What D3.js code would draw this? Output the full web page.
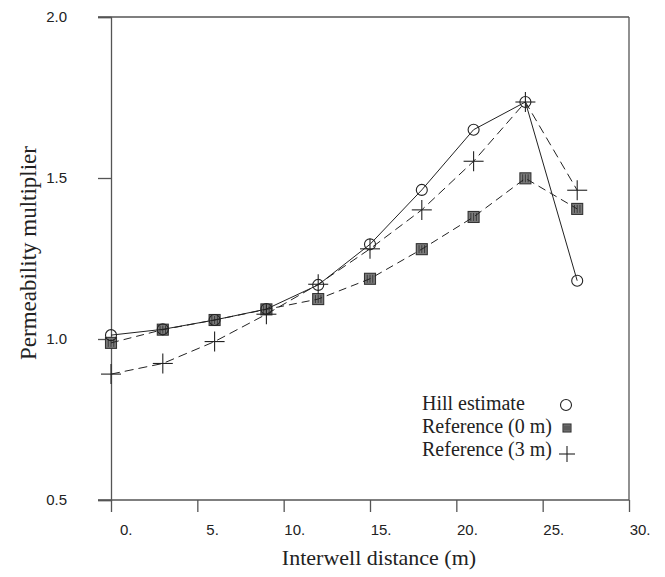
<!DOCTYPE html>
<html>
<head>
<meta charset="utf-8">
<script src="https://cdn.jsdelivr.net/npm/d3@7/dist/d3.min.js"></script>
<style>
  html, body { margin: 0; padding: 0; background: #fff; }
  svg { display: block; }
</style>
</head>
<body>
<svg id="chart" width="665" height="577"></svg>
<script>
// Interwell distance (m)
const distances = [0, 3, 6, 9, 12, 15, 18, 21, 24, 27];
// Permeability multiplier per series
const hillEstimate = [1.012, 1.030, 1.059, 1.093, 1.168, 1.294, 1.463, 1.650, 1.736, 1.181];
const reference0m  = [0.988, 1.029, 1.059, 1.092, 1.124, 1.187, 1.279, 1.379, 1.499, 1.404];
const reference3m  = [0.891, 0.924, 0.992, 1.077, 1.170, 1.280, 1.401, 1.552, 1.736, 1.462];

const xTicks = [0, 5, 10, 15, 20, 25, 30];
const xTickLabels = ["0.", "5.", "10.", "15.", "20.", "25.", "30."];
const yTicks = [0.5, 1.0, 1.5, 2.0];
const yTickLabels = ["0.5", "1.0", "1.5", "2.0"];
const seriesNames = ["Hill estimate", "Reference (0 m)", "Reference (3 m)"];

const svg = d3.select("#chart");
const plotLeft = 111, plotRight = 629, plotTop = 17, plotBottom = 500;
const tickLen = 13;

const x = d3.scaleLinear().domain([0, 30]).range([plotLeft, plotRight]);
const y = d3.scaleLinear().domain([0.5, 2.0]).range([plotBottom, plotTop]);

const frameColor = "#555";
const tickFont = "'Liberation Sans', Arial, sans-serif";
const titleFont = "'Liberation Serif', 'Times New Roman', serif";

// y axis with outward ticks
const yAxis = d3.axisLeft(y).tickValues(yTicks).tickSize(tickLen).tickFormat((d, i) => yTickLabels[i]);
const gy = svg.append("g").attr("transform", `translate(${plotLeft},0)`).call(yAxis);
gy.select(".domain").attr("stroke", frameColor).attr("stroke-width", 1.3);
gy.selectAll(".tick line").attr("stroke", frameColor).attr("stroke-width", 1.3);
gy.selectAll(".tick text")
  .attr("x", -44)
  .attr("font-family", tickFont)
  .attr("font-size", 15)
  .attr("fill", "#222");

// x axis with downward ticks
const xAxis = d3.axisBottom(x).tickValues(xTicks).tickSize(12).tickFormat((d, i) => xTickLabels[i]);
const gx = svg.append("g").attr("transform", `translate(0,${plotBottom})`).call(xAxis);
gx.select(".domain").remove();
gx.selectAll(".tick line").attr("stroke", frameColor).attr("stroke-width", 1.3);
gx.selectAll(".tick text")
  .attr("text-anchor", "end")
  .attr("x", 21)
  .attr("y", 35)
  .attr("dy", 0)
  .attr("font-family", tickFont)
  .attr("font-size", 15)
  .attr("fill", "#222");

// frame: bottom and top run out to the tick length, right side closes the box
const frame = svg.append("g").attr("stroke", frameColor).attr("stroke-width", 1.3).attr("fill", "none");
frame.append("line").attr("x1", plotLeft - tickLen).attr("x2", plotRight).attr("y1", plotBottom).attr("y2", plotBottom);
frame.append("line").attr("x1", plotLeft - tickLen).attr("x2", plotRight).attr("y1", plotTop).attr("y2", plotTop);
frame.append("line").attr("x1", plotRight).attr("x2", plotRight).attr("y1", plotTop).attr("y2", plotBottom);

// axis titles
svg.append("text")
  .attr("x", 379).attr("y", 565)
  .attr("text-anchor", "middle")
  .attr("font-family", titleFont)
  .attr("font-size", 22)
  .attr("fill", "#222")
  .text("Interwell distance (m)");

svg.append("text")
  .attr("transform", "translate(36,253) rotate(-90)")
  .attr("text-anchor", "middle")
  .attr("font-family", titleFont)
  .attr("font-size", 23)
  .attr("fill", "#222")
  .text("Permeability multiplier");

// marker drawers
function drawCircle(g, cx, cy, r) {
  g.append("circle").attr("cx", cx).attr("cy", cy).attr("r", r)
    .attr("fill", "none").attr("stroke", "#222").attr("stroke-width", 1.1);
}
function drawSquare(g, cx, cy, s) {
  g.append("rect").attr("x", cx - s / 2).attr("y", cy - s / 2).attr("width", s).attr("height", s)
    .attr("fill", "#7c7c7c").attr("stroke", "#333").attr("stroke-width", 1.1);
  [-s / 4, 0, s / 4].forEach(dx => {
    g.append("line").attr("x1", cx + dx).attr("x2", cx + dx)
      .attr("y1", cy - s / 2 + 1.5).attr("y2", cy + s / 2 - 1.5)
      .attr("stroke", "#333").attr("stroke-width", 0.9);
  });
}
function drawCross(g, cx, cy, h) {
  g.append("line").attr("x1", cx - h).attr("x2", cx + h).attr("y1", cy).attr("y2", cy)
    .attr("stroke", "#222").attr("stroke-width", 1.1);
  g.append("line").attr("x1", cx).attr("x2", cx).attr("y1", cy - h).attr("y2", cy + h)
    .attr("stroke", "#222").attr("stroke-width", 1.1);
}

const line = vals => d3.line().x((d, i) => x(distances[i])).y(d => y(d))(vals);

const marks = svg.append("g");
// markers
reference0m.forEach((v, i) => drawSquare(marks, x(distances[i]), y(v), 11));
hillEstimate.forEach((v, i) => drawCircle(marks, x(distances[i]), y(v), 5.5));
reference3m.forEach((v, i) => drawCross(marks, x(distances[i]), y(v), 10));

// connecting lines
marks.append("path").attr("d", line(reference0m))
  .attr("fill", "none").attr("stroke", "#222").attr("stroke-width", 1)
  .attr("stroke-dasharray", "8,5");
marks.append("path").attr("d", line(reference3m))
  .attr("fill", "none").attr("stroke", "#222").attr("stroke-width", 1)
  .attr("stroke-dasharray", "9,5");
marks.append("path").attr("d", line(hillEstimate))
  .attr("fill", "none").attr("stroke", "#222").attr("stroke-width", 1);

// legend
const legend = svg.append("g");
const legendX = 422, legendY0 = 410, legendStep = 23;
seriesNames.forEach((name, i) => {
  legend.append("text")
    .attr("x", legendX).attr("y", legendY0 + i * legendStep)
    .attr("font-family", titleFont)
    .attr("font-size", 20)
    .attr("fill", "#222")
    .text(name);
});
drawCircle(legend, 566, 405, 5.5);
drawSquare(legend, 567, 428, 8);
drawCross(legend, 567, 454, 8);
</script>
</body>
</html>
